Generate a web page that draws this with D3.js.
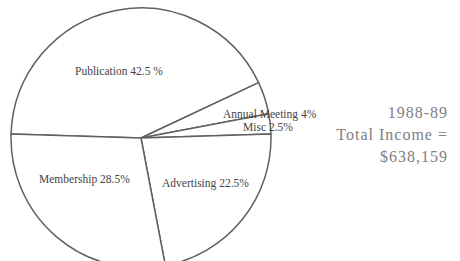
<!DOCTYPE html>
<html><head><meta charset="utf-8">
<script src="https://cdn.jsdelivr.net/npm/d3@7"></script>
<style>html,body{margin:0;padding:0;background:#fff;}svg{display:block;}</style>
</head><body><svg id="c" width="460" height="261"></svg>
<script>
const categories = ["Publication", "Annual Meeting", "Misc", "Advertising", "Membership"];
const values = [42.5, 4, 2.5, 22.5, 28.5];
const labels = ["Publication 42.5 %", "Annual Meeting 4%", "Misc 2.5%", "Advertising 22.5%", "Membership 28.5%"];
const titleLines = ["1988-89", "Total Income =", "$638,159"];

const cx = 141, cy = 138, R = 130;
const serif = "'Liberation Serif', 'Times New Roman', Times, serif";
// label anchor offsets relative to pie centre (layout only)
const labelOffsets = [[-66, -63], [82, -20], [102, -7], [21, 49], [-102, 45]];

const svg = d3.select("#c");
const g = svg.append("g").attr("transform", `translate(${cx},${cy})`);
const rot = 1.8 * Math.PI / 180;
const pie = d3.pie().sort(null).value(d => d)
  .startAngle(-Math.PI / 2 + rot)
  .endAngle(1.5 * Math.PI + rot);
const arc = d3.arc().innerRadius(0).outerRadius(R);
const arcs = pie(values);
g.selectAll("path").data(arcs).join("path")
  .attr("d", arc).attr("fill", "#fff")
  .attr("stroke", "#606060").attr("stroke-width", 1.5).attr("stroke-linejoin", "round");

g.selectAll("text.lbl").data(arcs).join("text").attr("class", "lbl")
  .attr("x", (d, i) => labelOffsets[i][0]).attr("y", (d, i) => labelOffsets[i][1])
  .style("font-family", serif)
  .attr("font-size", 11.5).attr("fill", "#444")
  .text((d, i) => labels[i]);

svg.selectAll("text.ttl").data(titleLines).join("text").attr("class", "ttl")
  .attr("x", 448).attr("y", (d, i) => 118 + i * 22)
  .attr("text-anchor", "end")
  .style("font-family", serif)
  .attr("font-size", 16).attr("letter-spacing", 1).attr("fill", "#808080")
  .text(d => d);
</script></body></html>
